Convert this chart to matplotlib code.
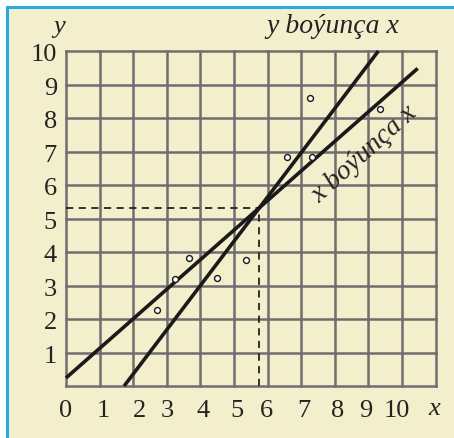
import matplotlib.pyplot as plt
from matplotlib.patches import Rectangle
from matplotlib.lines import Line2D

# scatter points
px = [2.7, 3.24, 3.65, 4.5, 5.36, 6.58, 7.32, 7.25, 9.34]
py = [2.27, 3.19, 3.83, 3.22, 3.76, 6.85, 6.85, 8.59, 8.26]

# regression lines (endpoints)
line_xy_x = [0.0, 10.47]
line_xy_y = [0.24, 9.48]
line_yx_x = [1.73, 9.3]
line_yx_y = [0.0, 10.0]

# mean point
mx, my = 5.75, 5.3

xlabels = ['0', '1', '2', '3', '4', '5', '6', '7', '8', '9', '10']
xlabel_pos = [0, 1.1, 2.2, 3.0, 4.08, 5.1, 5.98, 7.08, 8.1, 8.93, 9.85]
ylabels = ['1', '2', '3', '4', '5', '6', '7', '8', '9', '10']

cream = '#f3eecb'
blue = '#29abe2'
gridc = '#6e6e6e'
serif = 'Liberation Serif'
ink = '#252223'

fig = plt.figure(figsize=(4.54, 4.38), dpi=100)
fig.patch.set_facecolor('white')
fig.add_artist(Rectangle((8/454, 0), 1, (438-8)/438, transform=fig.transFigure,
                         facecolor=cream, edgecolor='none', zorder=0))
fig.add_artist(Line2D([7/454, 7/454], [0, (438-7)/438], transform=fig.transFigure,
                      color=blue, lw=2.2))
fig.add_artist(Line2D([7/454, 1], [(438-7)/438, (438-7)/438], transform=fig.transFigure,
                      color=blue, lw=2.2))

ax = fig.add_axes([66/454, 52/438, 369.5/454, 335/438])
ax.set_facecolor('none')
ax.set_xlim(0, 11)
ax.set_ylim(0, 10)
for s in ax.spines.values():
    s.set_visible(False)
ax.set_xticks([])
ax.set_yticks([])

for i in range(12):
    ax.plot([i, i], [0, 10], color=gridc, lw=1.8, clip_on=False, zorder=1)
for j in range(11):
    ax.plot([0, 11], [j, j], color=gridc, lw=1.8, clip_on=False, zorder=1)

# dashed guides to the mean point
ax.plot([0, mx], [my, my], color=ink, lw=1.3, ls=(0, (4, 3)), zorder=2)
ax.plot([mx, mx], [0, my], color=ink, lw=1.3, ls=(0, (4, 3)), zorder=2)

ax.plot(line_xy_x, line_xy_y, color='#1a1a1a', lw=2.6, solid_capstyle='butt', clip_on=False, zorder=3)
ax.plot(line_yx_x, line_yx_y, color='#1a1a1a', lw=2.6, solid_capstyle='butt', clip_on=False, zorder=3)

ax.scatter(px, py, s=18, facecolor='white', edgecolor='#1a1a1a', linewidth=1.0, zorder=4)

for lab, xp in zip(xlabels, xlabel_pos):
    ax.text(xp, -0.75, lab, ha='center', va='center', fontsize=19, family=serif, color=ink)
for k, lab in enumerate(ylabels):
    ax.text(-0.27, k + 1 - 0.12, lab, ha='right', va='center', fontsize=19, family=serif, color=ink)

ax.text(-0.2, 10.72, 'y', ha='center', va='center', fontsize=19, family=serif, style='italic', color=ink)
ax.text(10.95, -0.7, 'x', ha='center', va='center', fontsize=19, family=serif, style='italic', color=ink)
ax.text(7.95, 10.72, 'y boýunça x', ha='center', va='center', fontsize=20, family=serif, style='italic', color=ink)
ax.text(8.88, 6.92, 'x boýunça x', ha='center', va='center', fontsize=20, family=serif, style='italic',
        rotation=42, rotation_mode='anchor', color=ink)

fig.savefig('out.png', dpi=100)
